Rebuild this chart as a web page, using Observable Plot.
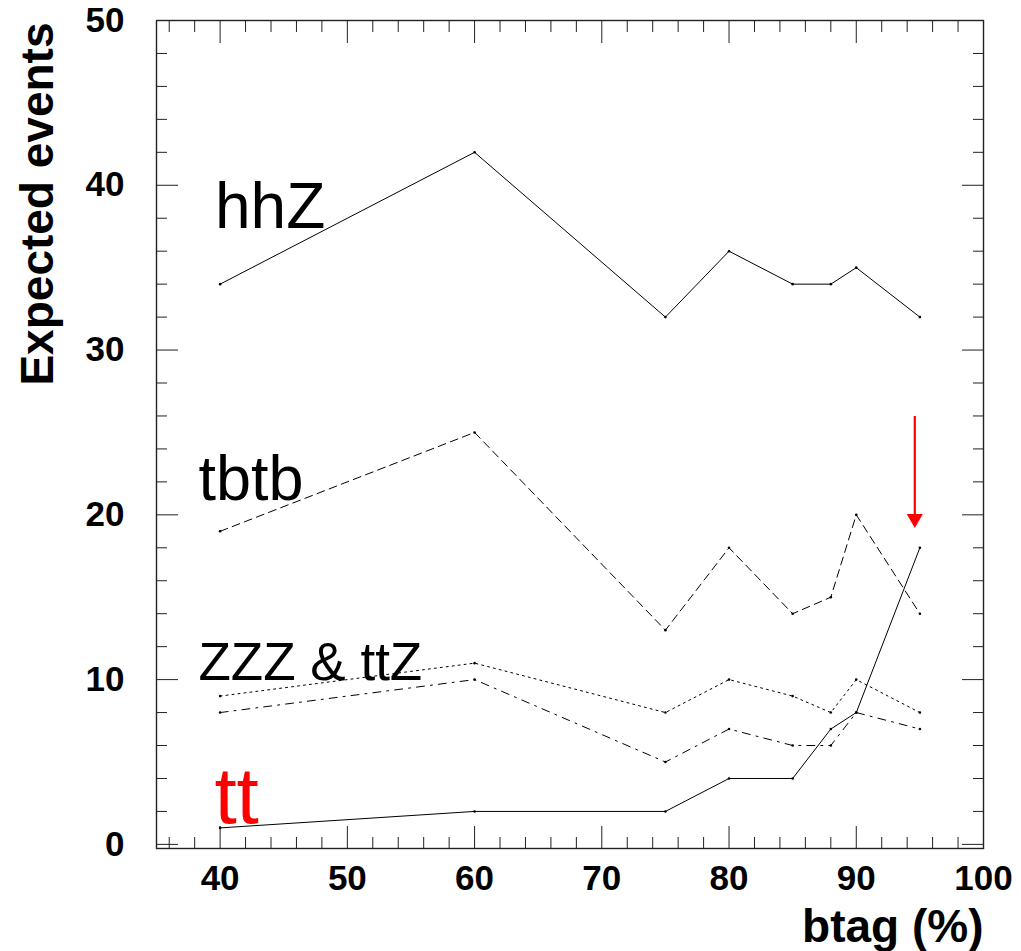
<!DOCTYPE html>
<html>
<head>
<meta charset="utf-8">
<script src="https://cdn.jsdelivr.net/npm/d3@7"></script>
<script src="https://cdn.jsdelivr.net/npm/@observablehq/plot@0.6"></script>
<style>
  body { margin: 0; background: #fff; }
  #chart svg { display: block; }
</style>
</head>
<body>
<div id="chart"></div>
<script>
// b-tag working points (%) and expected event yields per process
const btag = [40, 60, 75, 80, 85, 88, 90, 95];
const hhZ  = [34, 42, 32, 36, 34, 34, 35, 32];
const tbtb = [19, 25, 13, 18, 14, 15, 20, 14];
const ZZZ  = [9, 11, 8, 10, 9, 8, 10, 8];
const ttZ  = [8, 10, 5, 7, 6, 6, 8, 7];
const tt   = [1, 2, 2, 4, 4, 7, 8, 18];

// axis ticks
const xMajorTicks = [40, 50, 60, 70, 80, 90, 100];
const xMinorTicks = [36, 38, 42, 44, 46, 48, 52, 54, 56, 58, 62, 64, 66, 68, 72, 74, 76, 78, 82, 84, 86, 88, 92, 94, 96, 98];
const yMajorTicks = [0, 10, 20, 30, 40, 50];
const yMinorTicks = [2, 4, 6, 8, 12, 14, 16, 18, 22, 24, 26, 28, 32, 34, 36, 38, 42, 44, 46, 48];

// process labels and their anchor points (data coordinates, text baseline)
const labelText = ["hhZ", "tbtb", "ZZZ & ttZ", "tt"];
const labelX    = [39.6, 38.3, 38.3, 39.55];
const labelY    = [37.4, 20.9, 10.0, 1.3];

// marker arrow at the highest working point
const arrowX    = [94.6];
const arrowFrom = [26.0];
const arrowTo   = [19.2];

const seriesNames  = ["hhZ", "tbtb", "ZZZ", "ttZ", "tt"];
const seriesValues = [hhZ, tbtb, ZZZ, ttZ, tt];

const dashes = {hhZ: null, tbtb: "8,5", ZZZ: "2,4", ttZ: "8,6,2,6", tt: null};
const labelColor = {hhZ: "black", tbtb: "black", "ZZZ & ttZ": "black", tt: "red"};
const labelSize  = {hhZ: 64, tbtb: 63, "ZZZ & ttZ": 53, tt: 80};

const rows = seriesNames.flatMap((name, s) =>
  btag.map((b, i) => ({series: name, btag: b, events: seriesValues[s][i]}))
);
const labels = labelText.map((t, i) => ({text: t, x: labelX[i], y: labelY[i]}));
const arrows = arrowX.map((x, i) => ({x, y1: arrowFrom[i], y2: arrowTo[i]}));

const FONT = "'Liberation Sans', Arial, Helvetica, sans-serif";

const tickStyle = {stroke: "#222", strokeWidth: 1, fill: "none", label: null};

const chart = Plot.plot({
  width: 1021,
  height: 951,
  marginLeft: 156,
  marginRight: 38,
  marginTop: 20,
  marginBottom: 103,
  style: {fontFamily: FONT, fontSize: "35px", fontWeight: "bold", background: "#fff", color: "black"},
  x: {domain: [35, 100], label: null},
  y: {domain: [-0.25, 50], label: null},
  marks: [
    // inward ticks on all four sides
    Plot.axisX({...tickStyle, anchor: "bottom", ticks: xMajorTicks, tickSize: -22}),
    Plot.axisX({...tickStyle, anchor: "bottom", ticks: xMinorTicks, tickSize: -11}),
    Plot.axisX({...tickStyle, anchor: "top", ticks: xMajorTicks, tickSize: -22}),
    Plot.axisX({...tickStyle, anchor: "top", ticks: xMinorTicks, tickSize: -11}),
    Plot.axisY({...tickStyle, anchor: "left", ticks: yMajorTicks, tickSize: -22}),
    Plot.axisY({...tickStyle, anchor: "left", ticks: yMinorTicks, tickSize: -11}),
    Plot.axisY({...tickStyle, anchor: "right", ticks: yMajorTicks, tickSize: -22}),
    Plot.axisY({...tickStyle, anchor: "right", ticks: yMinorTicks, tickSize: -11}),
    // tick labels
    Plot.axisX({anchor: "bottom", ticks: xMajorTicks, tickSize: 0, tickPadding: 17, label: null, fontWeight: "bold"}),
    Plot.axisY({anchor: "left", ticks: yMajorTicks, tickSize: 0, tickPadding: 32, label: null, fontWeight: "bold"}),
    Plot.frame({stroke: "#222", strokeWidth: 1.4}),
    // yields
    ...seriesNames.map(name =>
      Plot.line(rows.filter(d => d.series === name), {
        x: "btag", y: "events",
        stroke: "black", strokeWidth: 1,
        strokeDasharray: dashes[name]
      })
    ),
    Plot.dot(rows, {x: "btag", y: "events", r: 1.3, fill: "black", stroke: null}),
    // process labels
    Plot.text(labels, {
      x: "x", y: "y", text: "text",
      textAnchor: "start", lineAnchor: "bottom",
      fontWeight: "normal",
      fill: d => labelColor[d.text],
      fontSize: d => labelSize[d.text]
    }),
    // red arrow
    Plot.link(arrows, {x1: "x", y1: "y1", x2: "x", y2: d => d.y2 + 0.5, stroke: "red", strokeWidth: 2.2}),
    Plot.dot(arrows, {x: "x", y: "y2", symbol: "triangle", rotate: 180, r: 6, dy: -9.3, fill: "red", stroke: null}),
    // axis titles
    Plot.text(["btag (%)"], {
      frameAnchor: "bottom-right", text: d => d,
      textAnchor: "end", lineAnchor: "bottom", dy: 93,
      fontSize: 46, fontWeight: "bold"
    }),
    Plot.text(["Expected events"], {
      frameAnchor: "top-left", text: d => d,
      rotate: -90, textAnchor: "end", lineAnchor: "bottom",
      dx: -104, dy: 2,
      fontSize: 46, fontWeight: "bold"
    })
  ]
});

document.getElementById("chart").append(chart);
</script>
</body>
</html>
